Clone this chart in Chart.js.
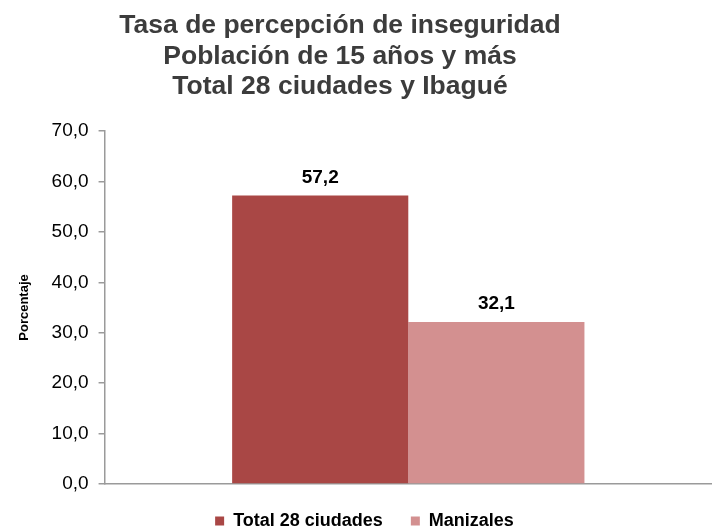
<!DOCTYPE html>
<html>
<head>
<meta charset="utf-8">
<script src="https://cdn.jsdelivr.net/npm/chart.js@4/dist/chart.umd.min.js"></script>
<style>
  html, body { margin: 0; padding: 0; background: #fff; }
  #wrap { width: 712px; height: 530px; }
</style>
</head>
<body>
<div id="wrap"><canvas id="chartPercepcion"></canvas></div>
<script>
const categorias = [''];
const series = ['Total 28 ciudades', 'Manizales'];
const valores = [57.2, 32.1];
const colores = ['#A94745', '#D39090'];
const tituloLineas = ['Tasa de percepción de inseguridad', 'Población de 15 años y más', 'Total 28 ciudades y Ibagué'];

const FUENTE = '"Liberation Sans", Arial, sans-serif';
const fmt = v => v.toFixed(1).replace('.', ',');

// titulo centrado un poco a la izquierda, como en el original
const tituloCentrado = {
    id: 'tituloCentrado',
    afterDraw(chart) {
        const ctx = chart.ctx;
        ctx.save();
        ctx.font = 'bold 26.5px ' + FUENTE;
        ctx.fillStyle = '#3C3C3C';
        ctx.textAlign = 'center';
        ctx.textBaseline = 'middle';
        tituloLineas.forEach((linea, i) => ctx.fillText(linea, 340, 26 + i * 30.5));
        ctx.restore();
    }
};

// etiquetas de valor encima de cada barra
const etiquetasValor = {
    id: 'etiquetasValor',
    afterDatasetsDraw(chart) {
        const ctx = chart.ctx;
        ctx.save();
        ctx.font = 'bold 19px ' + FUENTE;
        ctx.fillStyle = '#000';
        ctx.textAlign = 'center';
        ctx.textBaseline = 'middle';
        chart.data.datasets.forEach((ds, i) => {
            chart.getDatasetMeta(i).data.forEach((bar, j) => {
                ctx.fillText(fmt(ds.data[j]), bar.x, bar.y - 18);
            });
        });
        ctx.restore();
    }
};

new Chart(document.getElementById('chartPercepcion'), {
    type: 'bar',
    data: {
        labels: categorias,
        datasets: series.map((nombre, i) => ({
            label: nombre,
            data: [valores[i]],
            backgroundColor: colores[i],
            borderWidth: 0,
            barPercentage: 1,
            categoryPercentage: 0.58
        }))
    },
    options: {
        responsive: true,
        maintainAspectRatio: false,
        animation: false,
        layout: { padding: { left: 17, right: 0, top: 131, bottom: -10 } },
        scales: {
            y: {
                min: 0,
                max: 70,
                ticks: {
                    stepSize: 10,
                    color: '#000',
                    font: { family: FUENTE, size: 19 },
                    padding: 10,
                    callback: v => fmt(v)
                },
                grid: { drawOnChartArea: false, drawTicks: true, tickLength: 6, color: '#9A9A9A', lineWidth: 1.5 },
                border: { display: true, color: '#9A9A9A', width: 1.5 },
                title: {
                    display: true,
                    text: 'Porcentaje',
                    color: '#000',
                    font: { family: FUENTE, size: 13, weight: 'bold' },
                    padding: { top: 0, bottom: 9 }
                }
            },
            x: {
                ticks: { display: false },
                grid: { display: false, drawTicks: false },
                border: { display: true, color: '#9A9A9A', width: 1.5 }
            }
        },
        plugins: {
            title: { display: false },
            legend: {
                position: 'bottom',
                labels: {
                    color: '#000',
                    boxWidth: 9,
                    boxHeight: 9,
                    padding: 28,
                    font: { family: FUENTE, size: 18, weight: 'bold' }
                }
            },
            tooltip: { enabled: false }
        }
    },
    plugins: [etiquetasValor, tituloCentrado]
});
</script>
</body>
</html>
